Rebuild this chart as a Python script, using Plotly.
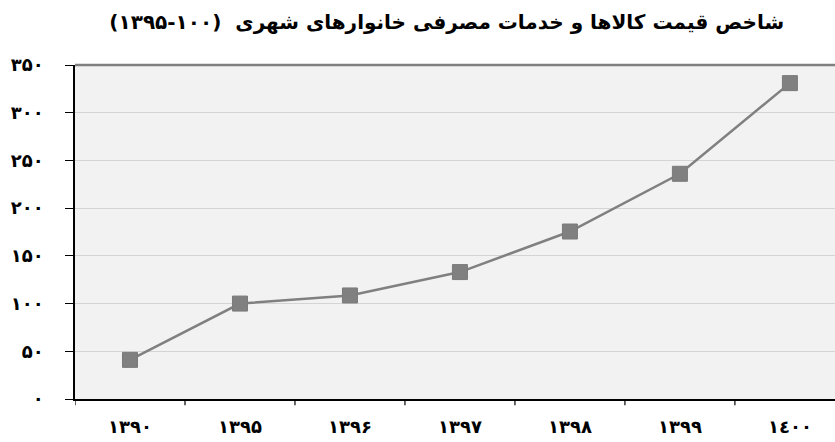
import plotly.graph_objects as go

years = ["۱۳۹۰", "۱۳۹۵", "۱۳۹۶", "۱۳۹۷", "۱۳۹۸", "۱۳۹۹", "۱٤۰۰"]
index_values = [41, 100, 108.5, 133, 175.5, 236, 331]
y_tick_vals = [0, 50, 100, 150, 200, 250, 300, 350]
y_tick_text = ["۰", "۵۰", "۱۰۰", "۱۵۰", "۲۰۰", "۲۵۰", "۳۰۰", "۳۵۰"]
title_text = "\u200fشاخص قیمت کالاها و خدمات مصرفی خانوارهای شهری  (۱۰۰-۱۳۹۵)\u200f"

FONT = "DejaVu Sans"

fig = go.Figure()
fig.add_trace(go.Scatter(
    x=list(range(len(years))), y=index_values,
    mode="lines+markers",
    line=dict(color="#808080", width=2.5),
    marker=dict(symbol="square", size=15, color="#808080",
                line=dict(color="#7a7a7a", width=1)),
    showlegend=False, hoverinfo="skip",
))

fig.update_layout(
    width=835, height=442,
    margin=dict(l=75, r=0, t=65, b=43),
    paper_bgcolor="white",
    plot_bgcolor="#f2f2f2",
    title=dict(text="<b>" + title_text + "</b>", x=0.535, xanchor="center",
               y=0.95, yanchor="middle",
               font=dict(family=FONT, size=20, color="black")),
    font=dict(family=FONT, color="black"),
)

fig.update_xaxes(
    type="linear",
    tickmode="array", tickvals=list(range(len(years))), ticktext=["<b>" + t + "</b>" for t in years],
    range=[-0.5, 6.41],
    showgrid=False, zeroline=False,
    showline=True, linecolor="black", linewidth=1.5,
    ticks="", tickfont=dict(family=FONT, size=18, color="black"),
    ticklabelstandoff=11,
)

# boundary tick marks for x (between categories)
for b in [-0.5, 0.5, 1.5, 2.5, 3.5, 4.5, 5.5]:
    fig.add_shape(type="line", xref="x", yref="paper", x0=b, x1=b, y0=0, y1=-0.019,
                  line=dict(color="black", width=1.2))

fig.update_yaxes(
    range=[0, 350],
    tickmode="array", tickvals=y_tick_vals, ticktext=["<b>" + t + "</b>" for t in y_tick_text],
    showgrid=True, gridcolor="#d4d4d4", gridwidth=1,
    zeroline=False,
    showline=True, linecolor="black", linewidth=1.5,
    ticks="outside", ticklen=8, tickcolor="black", tickwidth=1.2,
    tickfont=dict(family=FONT, size=18, color="black"),
    ticklabelstandoff=18,
)

# top border of plot area
fig.add_shape(type="line", xref="paper", yref="paper", x0=0, x1=1, y0=1, y1=1,
              line=dict(color="#7f7f7f", width=2.5))

fig.write_html("out.html", config={"displayModeBar": False},
               post_script="document.body.style.margin='0';document.body.style.padding='0';")
